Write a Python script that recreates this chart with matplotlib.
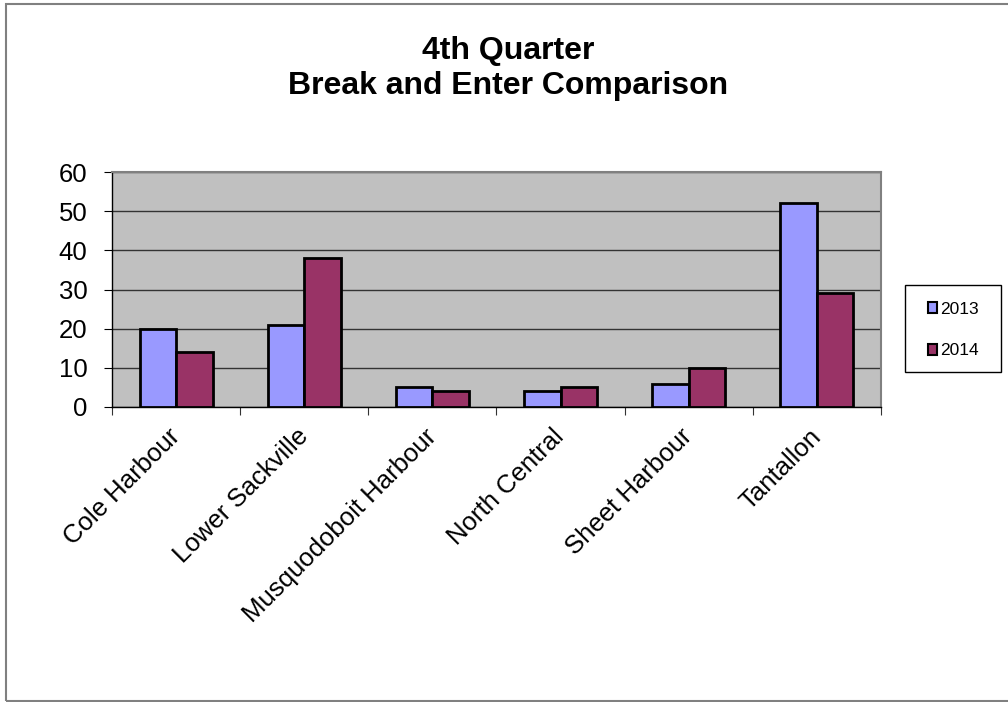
import matplotlib.pyplot as plt
import numpy as np
from matplotlib.patches import Rectangle

plt.rcParams['font.family'] = ['Liberation Sans', 'DejaVu Sans']

categories = ['Cole Harbour', 'Lower Sackville', 'Musquodoboit Harbour',
              'North Central', 'Sheet Harbour', 'Tantallon']
series_names = ['2013', '2014']
values_2013 = [20, 21, 5, 4, 6, 52]
values_2014 = [14, 38, 4, 5, 10, 29]
colors = ['#9999FF', '#993366']

W, H = 1008, 702
fig = plt.figure(figsize=(W / 100, H / 100), dpi=100)

# outer chart border (left, top, bottom visible)
fig.patches.append(Rectangle((6 / W, 1 / H), 1.1, 697 / H, transform=fig.transFigure,
                             fill=False, edgecolor='#808080', linewidth=1.5))

ax = fig.add_axes([112 / W, 1 - 407 / H, 769 / W, 235 / H])
ax.set_facecolor('#C0C0C0')

x = np.arange(len(categories))
w = 0.285
for i, (vals, name) in enumerate(zip([values_2013, values_2014], series_names)):
    ax.bar(x + (i - 0.5) * w, vals, width=w, align='center', color=colors[i],
           edgecolor='black', linewidth=2, label=name, zorder=3)

ax.set_xlim(-0.5, len(categories) - 0.5)
ax.set_ylim(0, 60)
ax.set_yticks(range(0, 61, 10))
ax.yaxis.grid(True, color='#333333', linewidth=1, zorder=1)
ax.set_axisbelow(True)

ax.set_xticks(np.arange(-0.5, len(categories), 1))
ax.set_xticklabels([])
ax.set_xticks(x, minor=True)
ax.set_xticklabels(categories, minor=True, rotation=45, ha='right', va='center',
                   rotation_mode='anchor', fontsize=18.5)
ax.tick_params(axis='x', which='minor', length=0, pad=18.5)
ax.tick_params(axis='x', which='major', length=5.8, color='#333333')
ax.tick_params(axis='y', length=5.8, labelsize=18.5, pad=12)

for s in ['top', 'right']:
    ax.spines[s].set_color('#808080')
    ax.spines[s].set_linewidth(1.5)
for s in ['left', 'bottom']:
    ax.spines[s].set_color('black')
    ax.spines[s].set_linewidth(1)

fig.text(508 / W, 1 - 68.5 / H, '4th Quarter\nBreak and Enter Comparison',
         ha='center', va='center', fontsize=23, fontweight='bold', linespacing=1.2)

# legend box
fig.patches.append(Rectangle((905 / W, 1 - 372 / H), 96 / W, 87 / H, transform=fig.transFigure,
                             fill=True, facecolor='white', edgecolor='black', linewidth=1))
leg = fig.legend(loc='center', bbox_to_anchor=(953 / W, 1 - 330 / H), fontsize=12.5,
                 frameon=False, handlelength=0.55, handleheight=0.55,
                 handletextpad=0.15, labelspacing=1.55, borderpad=0, borderaxespad=0)
for h in leg.legend_handles:
    h.set_linewidth(1.5)

fig.savefig('out.png', dpi=100)
